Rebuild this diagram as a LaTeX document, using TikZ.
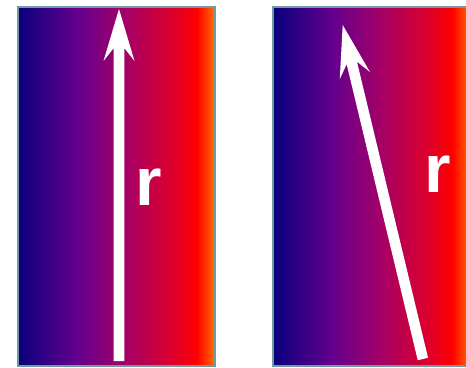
\documentclass[tikz,border=0pt]{standalone}
\usepackage{fontspec}
\newfontfamily\labelfont{Liberation Sans}
\pgfdeclarehorizontalshading{spectrum}{100bp}{rgb(0bp)=(0.04,0,0.49); rgb(25bp)=(0.04,0,0.49); rgb(40bp)=(0.39,0,0.56); rgb(52.5bp)=(0.65,0,0.40); rgb(65bp)=(0.88,0,0.16); rgb(70.5bp)=(1,0,0); rgb(75bp)=(1,0.43,0); rgb(100bp)=(1,0.43,0)}
\definecolor{framec}{RGB}{110,155,160}
\tikzset{
  panel/.style={shading=spectrum},
  frameline/.style={draw=framec, line width=2.2pt},
  lbl/.style={text=white, inner sep=0pt, font=\labelfont\bfseries\fontsize{68}{68}\selectfont},
  arrowfill/.style={fill=white}
}
\begin{document}
\begin{tikzpicture}[x=1pt,y=1pt]
\useasboundingbox (0,0) rectangle (466,367);
\clip (0,0) rectangle (466,367);
% left panel
\shade[panel] (17.8,1) rectangle (214.5,360);
\draw[frameline] (17.8,1) rectangle (214.5,360);
% right panel
\shade[panel] (273.3,1) rectangle (470,360);
\draw[frameline] (273.3,1) rectangle (470,360);
% arrows
\coordinate (h1) at (119,358);
\fill[arrowfill, shift={(h1)}] (0,0) -- (15.5,-52) -- (5.3,-39) -- (5.3,-352) -- (-5.3,-352) -- (-5.3,-39) -- (-15.5,-52) -- cycle;
\coordinate (h2) at (342.7,342);
\fill[arrowfill, shift={(h2)}, rotate=13.5] (0,0) -- (15.5,-52) -- (5.3,-39) -- (5.3,-343.5) -- (-5.3,-343.5) -- (-5.3,-39) -- (-15.5,-52) -- cycle;
% labels
\node[lbl] (r1) at (149,180) {r};
\node[lbl] (r2) at (437.5,193) {r};
\end{tikzpicture}
\end{document}
